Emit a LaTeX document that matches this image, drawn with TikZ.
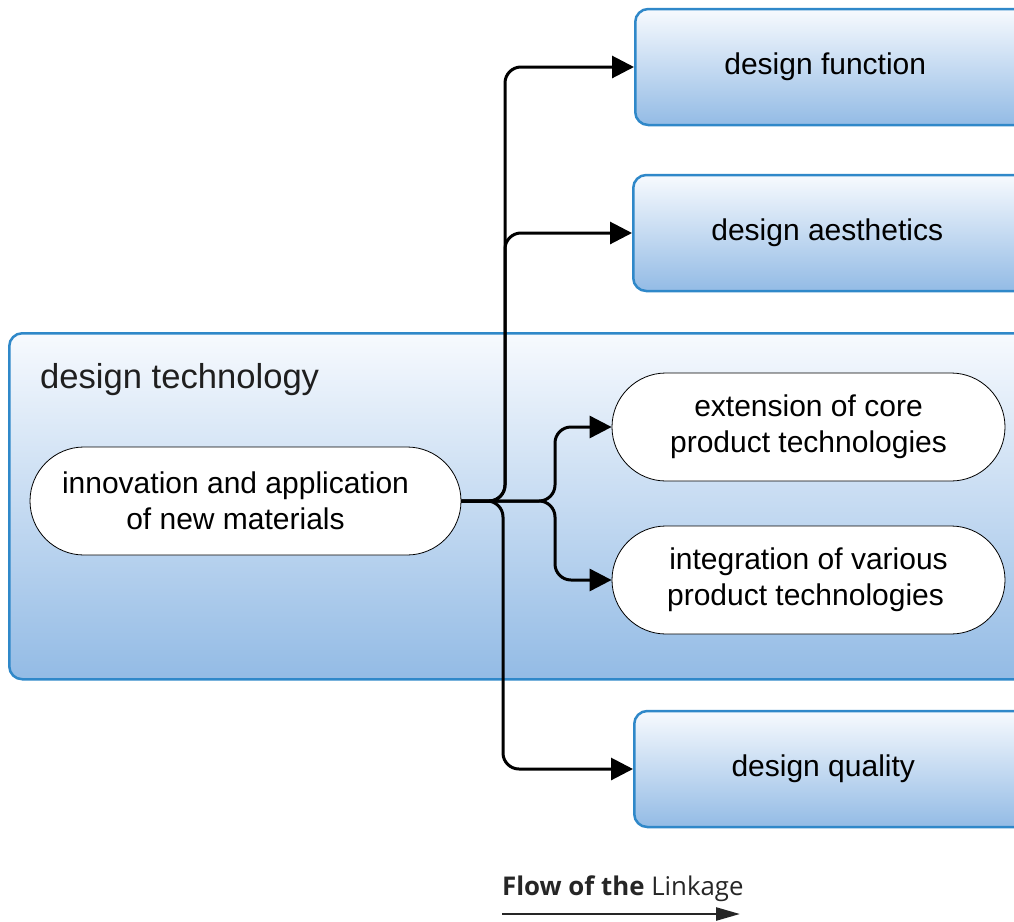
\documentclass[tikz,border=0pt]{standalone}
\usepackage{fontspec}
\setmainfont{Liberation Sans}
\newfontfamily\legendfont{Open Sans}
\usetikzlibrary{arrows.meta,shapes.misc}
\definecolor{bordblue}{HTML}{2F88C9}
\definecolor{topfill}{HTML}{F7FAFE}
\definecolor{botfill}{HTML}{93BBE5}
\tikzset{
  bluebox/.style={draw=bordblue, line width=2.5pt, rounded corners=13pt,
    top color=topfill, bottom color=botfill, minimum width=420pt, minimum height=116pt,
    font=\fontsize{30}{36}\selectfont, inner sep=0pt, anchor=west},
  pill/.style={draw=black, line width=0.8pt, rounded rectangle, fill=white,
    minimum height=108pt, align=center, inner sep=0pt,
    font=\fontsize{30}{36}\selectfont},
  conn/.style={draw=black, line width=3pt, rounded corners=16pt,
    -{Triangle[length=22pt,width=22pt]}},
}
\begin{document}
\begin{tikzpicture}[x=1pt,y=-1pt]
\useasboundingbox (0,0) rectangle (1014,921);
\clip (0,0) rectangle (1014,921);
% big container
\node[draw=bordblue, line width=2.5pt, rounded corners=13pt, top color=topfill,
  bottom color=botfill, minimum width=1040pt, minimum height=346pt, inner sep=0pt,
  anchor=north west] (tech) at (8,332) {};
\node[anchor=base west, font=\fontsize{34.6}{40}\selectfont, text=black!88, inner sep=0pt]
  (techlabel) at (40,388) {design technology};
% right boxes (right edges run past the picture)
\node[bluebox] (func) at (634,67) {design function\hspace*{40pt}};
\node[bluebox] (aest) at (632,233) {design aesthetics\hspace*{32pt}};
\node[bluebox] (qual) at (633,769) {design quality\hspace*{42pt}};
% pills
\node[pill, minimum width=431pt] (inno) at (245.5,501) {innovation and application\hspace*{20pt}\\of new materials\hspace*{20pt}};
\node[pill, minimum width=393pt] (ext) at (808.5,427) {extension of core\\product technologies};
\node[pill, minimum width=393pt] (integ) at (808.5,580) {integration of various\\product technologies\hspace*{6pt}};
% connectors
\draw[conn] (inno.east) -- (505,501) |- (func.west);
\draw[conn] (inno.east) -- (505,501) |- (aest.west);
\draw[conn] (inno.east) -- (503,501) |- (qual.west);
\draw[conn] (inno.east) -- (555,501) |- (ext.west);
\draw[conn] (inno.east) -- (555,501) |- (integ.west);
% legend
\node[anchor=base west, inner sep=0pt, font=\legendfont\fontsize{25.8}{30}\selectfont, text=black!85]
  (legend) at (502,895) {\textbf{Flow of the} Linkage};
\coordinate (la) at (502,914);
\coordinate (lb) at (740,914);
\draw[line width=2.5pt, black!85, -{Triangle[length=24pt,width=13pt]}] (la) -- (lb);
\end{tikzpicture}
\end{document}
